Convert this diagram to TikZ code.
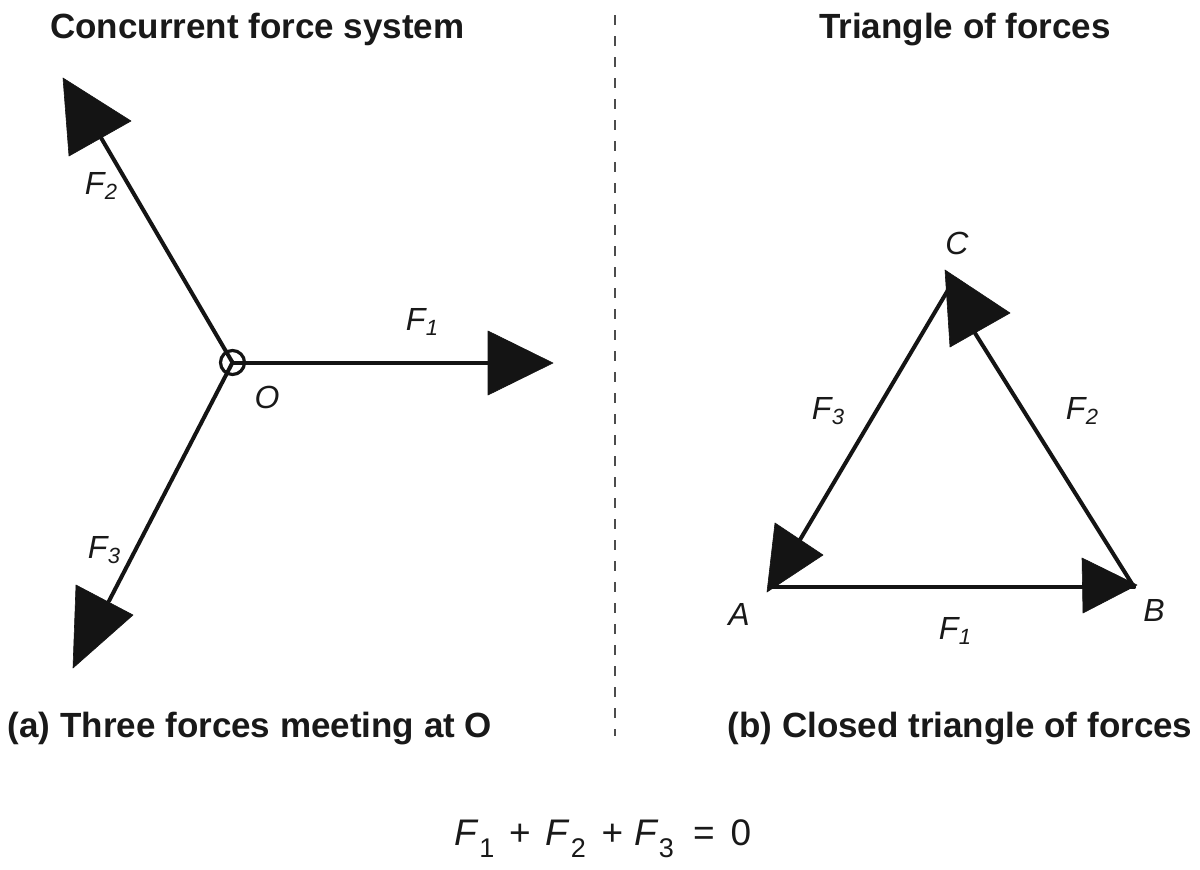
\documentclass[tikz,border=0pt]{standalone}
\usepackage{fontspec}
\setmainfont{Liberation Sans}
\newcommand{\Flab}[1]{\textit{F}\kern0.5pt\raisebox{-5pt}{\fontsize{22}{22}\selectfont\textit{#1}}}
\begin{document}
\begin{tikzpicture}[x=1pt,y=-1pt,
  force/.style={line width=4pt, line cap=round, black!92},
  head/.style={fill=black!92, draw=black!92, line width=0.6pt, line join=round},
  lbl/.style={font=\fontsize{32}{32}\selectfont\itshape, inner sep=0pt, text=black!90},
  ttl/.style={font=\fontsize{35}{35}\selectfont\bfseries, inner sep=0pt, anchor=base, text=black!90},
  eqtxt/.style={font=\fontsize{37}{37}\selectfont, inner sep=0pt, anchor=base, text=black!90},
  eqsub/.style={font=\fontsize{27}{27}\selectfont, inner sep=0pt, anchor=base, text=black!90},
  divider/.style={line width=1.4pt, dash pattern=on 10pt off 11pt, black!70},
  pivot/.style={circle, draw=black!92, line width=3.2pt, minimum size=24pt, inner sep=0pt}
]
\fill[white] (0,0) rectangle (1200,870);
\useasboundingbox (0,0) rectangle (1200,870);

% titles
\node[ttl, anchor=base west] (t1) at (50,38) {Concurrent force system};
\node[ttl] (t2) at (965,38) {Triangle of forces};

% divider
\coordinate (d1) at (615,15);
\coordinate (d2) at (615,736);
\draw[divider] (d1) -- (d2);

% ---------- (a) concurrent forces ----------
\node[pivot] (O) at (232.5,362.5) {};
\coordinate (e1) at (492,362.5);
\coordinate (e2) at (100,136);
\coordinate (e3) at (109,601);
\draw[force] (O.center) -- (e1);
\draw[force] (O.center) -- (e2);
\draw[force] (O.center) -- (e3);

% arrowheads (a)
\coordinate (h1a) at (488,331); \coordinate (h1b) at (553,363); \coordinate (h1c) at (488,395);
\coordinate (h2a) at (63,78);   \coordinate (h2b) at (131,121); \coordinate (h2c) at (69,156);
\coordinate (h3a) at (76,585);  \coordinate (h3b) at (133,615); \coordinate (h3c) at (73,668);
\filldraw[head] (h1a) -- (h1b) -- (h1c) -- cycle;
\filldraw[head] (h2a) -- (h2b) -- (h2c) -- cycle;
\filldraw[head] (h3a) -- (h3b) -- (h3c) -- cycle;

% labels (a)
\node[lbl] (lF1) at (422,322) {\Flab{1}};
\node[lbl] (lF2) at (101,186) {\Flab{2}};
\node[lbl] (lF3) at (104,550) {\Flab{3}};
\node[lbl] (lO) at (267,397) {O};

% caption (a)
\node[ttl] (c1) at (250,737) {(a) Three forces meeting at O};

% ---------- (b) triangle of forces ----------
\coordinate (A) at (772,587);
\coordinate (B) at (1134,587);
\coordinate (C) at (948,290);
\draw[force] (A) -- (B);
\draw[force] (B) -- (C);
\draw[force] (C) -- (A);

% arrowheads (b)
\coordinate (hBa) at (1082,558); \coordinate (hBb) at (1137,585); \coordinate (hBc) at (1083,613);
\coordinate (hCa) at (945,270);  \coordinate (hCb) at (1010,313); \coordinate (hCc) at (950,347);
\coordinate (hAa) at (775,523);  \coordinate (hAb) at (823,555);  \coordinate (hAc) at (767,592);
\filldraw[head] (hBa) -- (hBb) -- (hBc) -- cycle;
\filldraw[head] (hCa) -- (hCb) -- (hCc) -- cycle;
\filldraw[head] (hAa) -- (hAb) -- (hAc) -- cycle;

% labels (b)
\node[lbl] (lC) at (957,243) {C};
\node[lbl] (lA) at (739,614) {A};
\node[lbl] (lB) at (1154,610) {B};
\node[lbl] (tF1) at (955,631) {\Flab{1}};
\node[lbl] (tF2) at (1082,411) {\Flab{2}};
\node[lbl] (tF3) at (828,411) {\Flab{3}};

% caption (b)
\node[ttl] (c2) at (960,737) {(b) Closed triangle of forces};

% ---------- equation ----------
\node[eqtxt] (q1) at (466.5,845) {\textit{F}};
\node[eqsub] (q2) at (487,857) {1};
\node[eqtxt] (q3) at (520,845) {+};
\node[eqtxt] (q4) at (557.5,845) {\textit{F}};
\node[eqsub] (q5) at (578.5,857) {2};
\node[eqtxt] (q6) at (612.5,845) {+};
\node[eqtxt] (q7) at (647,845) {\textit{F}};
\node[eqsub] (q8) at (666.5,857) {3};
\node[eqtxt] (q9) at (704,845) {=};
\node[eqtxt] (q10) at (741,845) {0};
\end{tikzpicture}
\end{document}
